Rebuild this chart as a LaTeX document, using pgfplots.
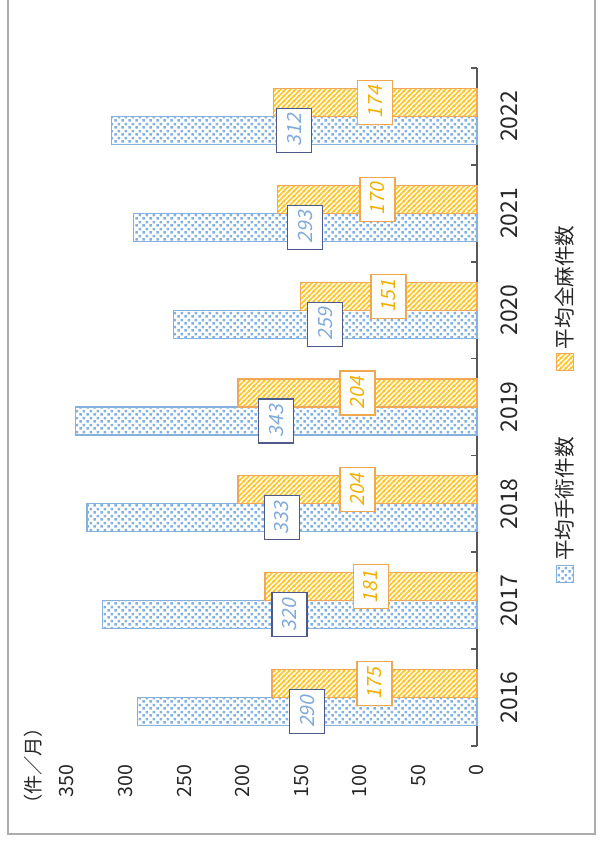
\documentclass[border=0pt]{standalone}
\usepackage{pgfplots}
\pgfplotsset{compat=1.18}
\usepackage{pgfplotstable}
\usepackage{fontspec}
\setmainfont{Noto Sans CJK JP}
\newfontfamily\slfont[FakeSlant=0.2]{Noto Sans CJK JP}
\usetikzlibrary{patterns.meta}

\definecolor{bblue}{HTML}{86B1DE}
\definecolor{bdot}{HTML}{80B2E4}
\definecolor{oline}{HTML}{F2A65A}
\definecolor{ohatch}{HTML}{FFC62A}
\definecolor{blab}{HTML}{7FAADA}
\definecolor{bbox}{HTML}{4E5A8A}
\definecolor{olab}{HTML}{F2B000}
\definecolor{obox}{HTML}{F0A850}

\pgfdeclarepattern{
  name=sqdots,
  type=uncolored,
  bottom left={\pgfpoint{0pt}{0pt}},
  top right={\pgfpoint{3.6pt}{3.6pt}},
  tile size={\pgfpoint{3.6pt}{3.6pt}},
  code={
    \pgfpathrectangle{\pgfpoint{0.2pt}{0.2pt}}{\pgfpoint{1.4pt}{1.4pt}}
    \pgfpathrectangle{\pgfpoint{2.0pt}{2.0pt}}{\pgfpoint{1.4pt}{1.4pt}}
    \pgfusepath{fill}
  }
}
\pgfdeclarepattern{
  name=hatch,
  type=uncolored,
  bottom left={\pgfpoint{0pt}{0pt}},
  top right={\pgfpoint{2.6pt}{2.6pt}},
  tile size={\pgfpoint{2.6pt}{2.6pt}},
  code={
    \pgfsetlinewidth{1.0pt}
    \pgfpathmoveto{\pgfpoint{-0.5pt}{-0.5pt}}
    \pgfpathlineto{\pgfpoint{3.1pt}{3.1pt}}
    \pgfpathmoveto{\pgfpoint{-0.5pt}{2.1pt}}
    \pgfpathlineto{\pgfpoint{0.5pt}{3.1pt}}
    \pgfpathmoveto{\pgfpoint{2.1pt}{-0.5pt}}
    \pgfpathlineto{\pgfpoint{3.1pt}{0.5pt}}
    \pgfusepath{stroke}
  }
}

\pgfplotsset{
  sqlegend/.style={legend image code/.code={\draw[##1] (0pt,-4.25pt) rectangle (8.5pt,4.25pt);}},
  barlabel/.style n args={2}{
    draw=none, fill=none, forget plot,
    point meta=explicit,
    nodes near coords={\slfont\pgfmathprintnumber{\pgfplotspointmeta}},
    every node near coord/.append style={anchor=center, fill=white, draw=#1, line width=0.6pt,
      text=#2, minimum width=22pt, minimum height=17.5pt, inner sep=0pt,
      font=\fontsize{9.8}{11}\selectfont}},
}

\pgfplotstableread{
x a b
0 290 175
1 320 181
2 333 204
3 343 204
4 259 151
5 293 170
6 312 174
}\data

\begin{document}
\begin{tikzpicture}[rotate=90, transform shape]
\useasboundingbox (0,0) rectangle (423pt,300pt);
\draw[gray!65, line width=1pt] (430pt,296pt) -- (6pt,296pt) -- (6pt,2.5pt) -- (430pt,2.5pt);
\begin{axis}[
  at={(50pt,61.5pt)}, anchor=south west,
  scale only axis, width=339pt, height=205pt,
  xmin=-0.5, xmax=6.5, ymin=0, ymax=350,
  ybar=0pt, bar width=14pt,
  axis lines*=left,
  x axis line style={black!65, line width=0.8pt},
  y axis line style={draw=none},
  xtick={0,...,6}, xticklabels={2016,2017,2018,2019,2020,2021,2022},
  major x tick style={draw=none},
  minor xtick={-0.5,0.5,1.5,2.5,3.5,4.5,5.5,6.5},
  minor x tick style={black!65, line width=0.8pt},
  minor tick length=3pt,
  tick align=inside,
  ytick={0,50,...,350},
  major y tick style={draw=none},
  /pgf/number format/assume math mode=true,
  xticklabel style={font=\fontsize{11.5}{12}\selectfont, text=black!85, yshift=-8.5pt},
  yticklabel style={font=\fontsize{9.8}{12}\selectfont, text=black!85, xshift=-6pt},
  clip=false,
  legend style={at={(0.507,-0.215)}, anchor=center, legend columns=2, draw=none, fill=none,
    font=\fontsize{10.3}{12}\selectfont, text=black!85,
    /tikz/every even column/.append style={column sep=31pt}},
]
\addplot[draw=bblue, line width=0.6pt, fill=white,
  postaction={pattern=sqdots, pattern color=bdot}, bar shift=-7pt, sqlegend]
  table[x=x, y=a]{\data};
\addlegendentry{平均手術件数}
\addplot[draw=oline, line width=0.6pt, fill=white,
  postaction={pattern=hatch, pattern color=ohatch}, bar shift=7pt, sqlegend]
  table[x=x, y=b]{\data};
\addlegendentry{平均全麻件数}
\addplot[barlabel={bbox}{blab}, bar shift=-7pt]
  table[x=x, y expr=\thisrow{a}/2, meta=a]{\data};
\addplot[barlabel={obox}{olab}, bar shift=7pt]
  table[x=x, y expr=\thisrow{b}/2, meta=b]{\data};
\node[font=\fontsize{9.6}{11}\selectfont, text=black!85] at (rel axis cs:-0.0295,1.083) {（件／月）};
\end{axis}
\end{tikzpicture}
\end{document}
